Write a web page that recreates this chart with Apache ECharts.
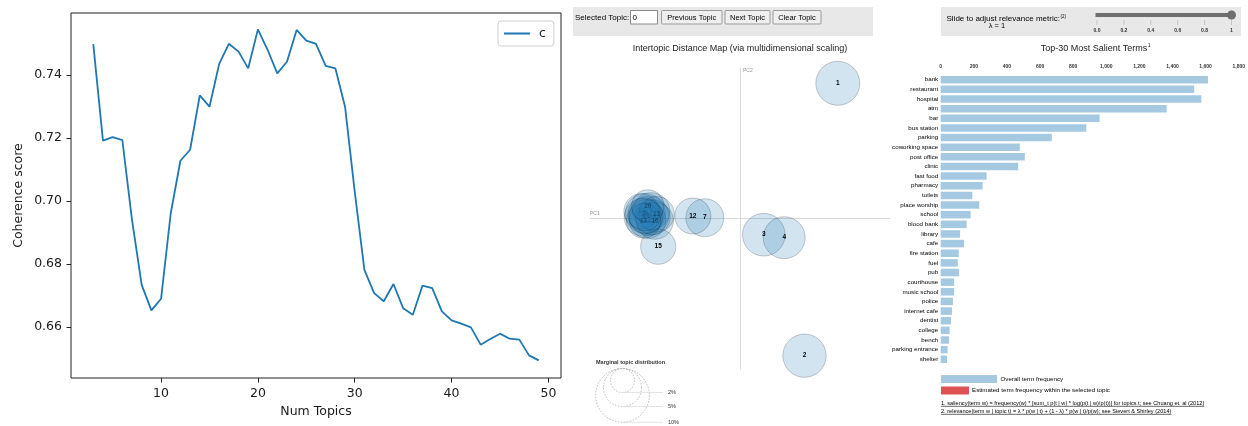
<!DOCTYPE html>
<html>
<head>
<meta charset="utf-8">
<script src="https://cdn.jsdelivr.net/npm/echarts@6/dist/echarts.min.js"></script>
<style>
  html, body { margin: 0; padding: 0; background: #fff; }
  #main { width: 1248px; height: 426px; }
</style>
</head>
<body>
<div id="main"></div>
<script>
// Coherence score per number of topics
const numTopics = [3,4,5,6,7,8,9,10,11,12,13,14,15,16,17,18,19,20,21,22,23,24,25,26,
  27,28,29,30,31,32,33,34,35,36,37,38,39,40,41,42,43,44,45,46,47,48,49];
const coherence = [0.7499,0.7192,0.7203,0.7194,0.6940,0.6733,0.6652,0.6689,0.6961,0.7128,
  0.7163,0.7336,0.7300,0.7436,0.7500,0.7475,0.7422,0.7546,0.7481,0.7406,0.7443,0.7544,
  0.7510,0.7500,0.7430,0.7422,0.7300,0.7030,0.6781,0.6707,0.6681,0.6736,0.6659,0.6638,
  0.6731,0.6723,0.6649,0.6620,0.6610,0.6598,0.6543,0.6561,0.6578,0.6562,0.6559,0.6509,0.6493];
const coherenceTicks = [0.66, 0.68, 0.70, 0.72, 0.74];
const topicTicks = [10, 20, 30, 40, 50];

// Intertopic distance map (MDS coordinates and marginal topic share in %)
const topicIds = [1,2,3,4,5,6,7,8,9,10,11,12,13,14,15,16,17,18,19,20];
const topicPC1 = [0.1956,0.1290,0.0476,0.0884,-0.1895,-0.182,-0.0704,-0.194,-0.1775,-0.170,
  -0.185,-0.0944,-0.167,-0.197,-0.1636,-0.1745,-0.193,-0.188,-0.191,-0.1844];
const topicPC2 = [0.2704,-0.2744,-0.0324,-0.0384,0.010,0.0055,0.0016,0.0025,0.0145,-0.0046,
  -0.0035,0.005,0.0085,0.0145,-0.0564,0.0025,-0.0046,0.004,0.0085,0.025];
const topicShare = [6.7,6.5,6.3,6.1,5.6,5.4,5.0,4.9,4.8,4.7,4.6,4.5,4.4,4.3,4.3,4.2,4.1,4.0,3.8,3.6];
const sizeGuide = [2, 5, 10];

// Top-30 most salient terms
const terms = ['bank','restaurant','hospital','atm','bar','bus station','parking','coworking space',
  'post office','clinic','fast food','pharmacy','toilets','place worship','school','blood bank',
  'library','cafe','fire station','fuel','pub','courthouse','music school','police','internet cafe',
  'dentist','college','bench','parking entrance','shelter'];
const termFreq = [1614,1531,1574,1365,960,879,671,478,508,468,277,253,191,233,181,157,117,141,
  109,103,111,81,81,74,68,62,54,50,42,38];
const lambdaTicks = ['0.0','0.2','0.4','0.6','0.8','1'];

const LD_FONT = '"Liberation Sans", Arial, sans-serif';
const MPL_FONT = '"DejaVu Sans", sans-serif';
const BLUE = '#1f77b4';

// circle radius (px) for a topic share in percent
function topicRadius(pct) { return 8.5 * Math.sqrt(pct); }

const measureCtx = document.createElement('canvas').getContext('2d');
function textWidth(str, font) { measureCtx.font = font; return measureCtx.measureText(str).width; }

const chart = echarts.init(document.getElementById('main'), null, { renderer: 'canvas' });

// clustered topics whose labels sit under overlapping circles
const buried = new Set([5,6,8,9,11,14,16,18,19]);
const scatterData = topicIds.map((id, i) => ({
  value: [topicPC1[i], topicPC2[i], topicShare[i], id],
  label: buried.has(id) ? { color: 'rgba(0,0,0,0.12)' } :
         (topicPC1[i] < -0.15 && id !== 15 ? { color: 'rgba(0,0,0,0.35)' } : {})
}));

const graphics = [];
function gText(x, y, text, font, fill, align, vAlign) {
  graphics.push({
    type: 'text', x: x, y: y, silent: true,
    style: { text: text, font: font, fill: fill || '#000',
      textAlign: align || 'left', align: align || 'left',
      textVerticalAlign: vAlign || 'middle', verticalAlign: vAlign || 'middle' }
  });
}
function gRect(x, y, w, h, fill, stroke, r) {
  graphics.push({ type: 'rect', silent: true, shape: { x: x, y: y, width: w, height: h, r: r || 0 },
    style: { fill: fill, stroke: stroke || null, lineWidth: stroke ? 1 : 0 } });
}
function gLine(x1, y1, x2, y2, stroke, w, dash) {
  graphics.push({ type: 'line', silent: true, shape: { x1: x1, y1: y1, x2: x2, y2: y2 },
    style: { stroke: stroke, lineWidth: w || 1, lineDash: dash || null } });
}

// --- topic selection controls ---
gRect(573, 7, 300, 29, '#e8e8e8');
gText(575, 17.5, 'Selected Topic:', '8px ' + LD_FONT, '#000');
gRect(630.5, 10.5, 27, 13.5, '#fff', '#8a8a8a');
gText(632.5, 17.5, '0', '8px ' + LD_FONT, '#000');
[['Previous Topic', 661, 60.5], ['Next Topic', 724.5, 45], ['Clear Topic', 772.5, 48]].forEach(b => {
  gRect(b[1] + 0.5, 10.5, b[2], 13.5, '#efefef', '#9a9a9a', 1);
  gText(b[1] + 0.5 + b[2] / 2, 17.5, b[0], '7.5px ' + LD_FONT, '#000', 'center');
});
gText(740, 49, 'Intertopic Distance Map (via multidimensional scaling)', '9px ' + LD_FONT, '#222', 'center');
gText(590, 214, 'PC1', '5px ' + LD_FONT, '#999');
gText(743, 71, 'PC2', '5px ' + LD_FONT, '#999');

// --- marginal topic distribution guide ---
gText(596, 362, 'Marginal topic distribution', 'bold 5.5px ' + LD_FONT, '#333');
const guideCx = 622.5, guideTop = 368.5;
sizeGuide.slice().reverse().forEach(p => {
  const r = topicRadius(p);
  graphics.push({ type: 'circle', silent: true, shape: { cx: guideCx, cy: guideTop + r, r: r },
    style: { fill: null, stroke: '#aaa', lineWidth: 0.8, lineDash: [1.5, 1.5] } });
  gLine(guideCx, guideTop + 2 * r, 663, guideTop + 2 * r, '#ddd', 0.8);
  gText(668, guideTop + 2 * r, p + '%', '5.5px ' + LD_FONT, '#333');
});

// --- relevance slider ---
gRect(941, 7, 300, 29, '#e8e8e8');
gText(946.5, 18.5, 'Slide to adjust relevance metric:', '8px ' + LD_FONT, '#000');
gText(946.5 + textWidth('Slide to adjust relevance metric:', '8px ' + LD_FONT) + 0.5, 17,
  '(2)', '4.5px ' + LD_FONT, '#000');
gText(997, 26, '\u03bb = 1', '7.5px ' + LD_FONT, '#000', 'center');
const sliderX0 = 1097, sliderX1 = 1231.5;
gLine(sliderX0 - 1.5, 15, sliderX1, 15, '#6e6e6e', 4);
graphics.push({ type: 'circle', silent: true, shape: { cx: sliderX1, cy: 15, r: 4.5 },
  style: { fill: '#6e6e6e' } });
lambdaTicks.forEach((t, i) => {
  const x = sliderX0 + (sliderX1 - sliderX0) * i / (lambdaTicks.length - 1);
  gLine(x, 20, x, 25, '#bbb', 0.8);
  gText(x, 31, t, 'bold 5px ' + LD_FONT, '#333', 'center');
});

// --- salient terms title, legend and notes ---
const termTitle = 'Top-30 Most Salient Terms';
const ttW = textWidth(termTitle, '9px ' + LD_FONT);
gText(1094, 49, termTitle, '9px ' + LD_FONT, '#222', 'center');
gText(1094 + ttW / 2 + 0.5, 46, '1', '5px ' + LD_FONT, '#222');
gRect(941, 375, 56, 8, 'rgba(31,119,180,0.4)');
gText(1000.5, 379, 'Overall term frequency', '6.2px ' + LD_FONT, '#000');
gRect(941, 386.5, 28, 8, 'rgba(214,39,40,0.8)');
gText(972, 390.5, 'Estimated term frequency within the selected topic', '6.2px ' + LD_FONT, '#000');
const notes = [
  '1. saliency(term w) = frequency(w) * [sum_t p(t | w) * log(p(t | w)/p(t))] for topics t; see Chuang et. al (2012)',
  '2. relevance(term w | topic t) = \u03bb * p(w | t) + (1 - \u03bb) * p(w | t)/p(w); see Sievert & Shirley (2014)'
];
notes.forEach((n, i) => {
  const y = 403 + i * 8;
  gText(941, y, n, '5.6px ' + LD_FONT, '#000');
  gLine(941, y + 3.3, 941 + textWidth(n, '5.6px ' + LD_FONT), y + 3.3, '#000', 0.6);
});

const option = {
  animation: false,
  backgroundColor: '#fff',
  legend: {
    data: [{ name: 'c', icon: 'rect' }], left: 498, top: 21,
    padding: [6, 8, 6, 6], itemWidth: 26, itemHeight: 2, itemGap: 0,
    backgroundColor: '#fff', borderColor: '#cfcfcf', borderWidth: 1, borderRadius: 3,
    itemStyle: { color: BLUE, borderWidth: 0 },
    textStyle: { fontFamily: MPL_FONT, fontSize: 12.5, color: '#1a1a1a', padding: [0, 0, 0, 4] }
  },
  grid: [
    { left: 71, right: 687, top: 13, bottom: 48, show: true, borderColor: '#222', borderWidth: 1,
      backgroundColor: 'transparent', containLabel: false },
    { left: 590, width: 300, top: 68, height: 301, containLabel: false },
    { left: 940.7, right: 6.2, top: 74.9, height: 289.2, containLabel: false }
  ],
  xAxis: [
    { gridIndex: 0, type: 'value', min: 0.7, max: 51.3,
      name: 'Num Topics', nameLocation: 'middle', nameGap: 27,
      nameTextStyle: { fontFamily: MPL_FONT, fontSize: 12.5, color: '#1a1a1a' },
      axisLine: { show: false }, splitLine: { show: false },
      axisTick: { show: true, inside: false, length: 4.5, customValues: topicTicks,
        lineStyle: { color: '#222', width: 1 } },
      axisLabel: { customValues: topicTicks, margin: 9, fontFamily: MPL_FONT, fontSize: 12.5,
        color: '#1a1a1a' } },
    { gridIndex: 1, type: 'value', min: -0.3, max: 0.3,
      axisLine: { show: true, onZero: true, lineStyle: { color: '#dadada', width: 1 } },
      axisTick: { show: false }, axisLabel: { show: false }, splitLine: { show: false } },
    { gridIndex: 2, type: 'value', position: 'top', min: 0, max: 1800, interval: 200,
      axisLine: { show: false }, axisTick: { show: false }, splitLine: { show: false },
      axisLabel: { margin: 6, fontFamily: LD_FONT, fontSize: 5, fontWeight: 'bold', color: '#333',
        formatter: v => v.toLocaleString('en-US') } }
  ],
  yAxis: [
    { gridIndex: 0, type: 'value', min: 0.6437, max: 0.7598,
      name: 'Coherence score', nameLocation: 'middle', nameGap: 46,
      nameTextStyle: { fontFamily: MPL_FONT, fontSize: 12.5, color: '#1a1a1a' },
      axisLine: { show: false }, splitLine: { show: false },
      axisTick: { show: true, inside: false, length: 4.5, customValues: coherenceTicks,
        lineStyle: { color: '#222', width: 1 } },
      axisLabel: { customValues: coherenceTicks, margin: 9, fontFamily: MPL_FONT, fontSize: 12.5,
        color: '#1a1a1a', formatter: v => v.toFixed(2) } },
    { gridIndex: 1, type: 'value', min: -0.301, max: 0.301,
      axisLine: { show: true, onZero: true, lineStyle: { color: '#dadada', width: 1 } },
      axisTick: { show: false }, axisLabel: { show: false }, splitLine: { show: false } },
    { gridIndex: 2, type: 'category', data: terms, inverse: true,
      axisLine: { show: false }, axisTick: { show: false },
      axisLabel: { margin: 2.5, fontFamily: LD_FONT, fontSize: 6.2, color: '#000' } }
  ],
  series: [
    { name: 'c', type: 'line', xAxisIndex: 0, yAxisIndex: 0, symbol: 'none',
      data: numTopics.map((n, i) => [n, coherence[i]]),
      lineStyle: { color: BLUE, width: 1.8 }, itemStyle: { color: BLUE } },
    { name: 'topics', type: 'scatter', xAxisIndex: 1, yAxisIndex: 1,
      data: scatterData,
      symbolSize: v => 2 * topicRadius(v[2]),
      itemStyle: { color: BLUE, opacity: 0.2, borderColor: '#000', borderWidth: 1 },
      label: { show: true, position: 'inside', formatter: p => String(p.value[3]),
        fontFamily: LD_FONT, fontSize: 6.5, fontWeight: 'bold', color: '#000', opacity: 1 },
      emphasis: { disabled: true } },
    { name: 'Overall term frequency', type: 'bar', xAxisIndex: 2, yAxisIndex: 2,
      data: termFreq, barWidth: 7.5,
      itemStyle: { color: BLUE, opacity: 0.4 }, emphasis: { disabled: true } }
  ],
  graphic: { elements: graphics }
};
chart.setOption(option);
</script>
</body>
</html>
